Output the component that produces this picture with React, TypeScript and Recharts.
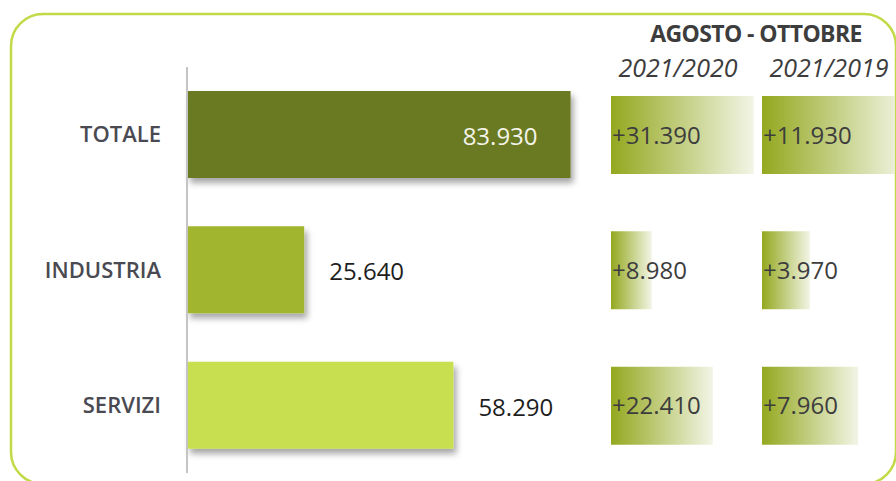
import React from 'react';
import { BarChart, Bar, XAxis, YAxis, Cell, LabelList } from 'recharts';

// Assunzioni previste agosto-ottobre 2021 per settore
const categories = ['TOTALE', 'INDUSTRIA', 'SERVIZI'];
const hires2021 = [83930, 25640, 58290];
const diffVs2020 = [31390, 8980, 22410];
const diffVs2019 = [11930, 3970, 7960];
const barColors = ['#6b7a23', '#a2b52e', '#c8df50'];
const periodTitle = 'AGOSTO - OTTOBRE';
const compareLabels = ['2021/2020', '2021/2019'];

const data = categories.map((name, i) => ({
  name,
  value: hires2021[i],
  d2020: diffVs2020[i],
  d2019: diffVs2019[i],
}));

const FONT = '"Open Sans", sans-serif';
const TEXT = '#3d3d3d';

// italian thousands separator
const fmt = (v: number) => String(v).replace(/\B(?=(\d{3})+(?!\d))/g, '.');

const MainLabel = (props: any) => {
  const { x, y, width, height, value, index } = props;
  const inside = index === 0; // only the big bar has room for its label
  return (
    <text
      x={inside ? x + width - 33 : x + width + 25}
      y={y + height / 2 + 1}
      textAnchor={inside ? 'end' : 'start'}
      dominantBaseline="central"
      fontFamily={FONT}
      fontSize={24}
      fill={inside ? '#f4f4ea' : '#1e1e1e'}
    >
      {fmt(value)}
    </text>
  );
};

const Shadow = () => (
  <filter id="barShadow" x="-10%" y="-20%" width="130%" height="160%">
    <feDropShadow dx="3" dy="5" stdDeviation="3" floodColor="#000" floodOpacity="0.35" />
  </filter>
);

const Grad = ({ id }: { id: string }) => (
  <linearGradient id={id} x1="0" y1="0" x2="1" y2="0">
    <stop offset="0%" stopColor="#94a81f" />
    <stop offset="100%" stopColor="#f2f5e6" />
  </linearGradient>
);

const chartStyle: React.CSSProperties = { position: 'absolute', left: 0, top: 0 };

const App = () => {
  return (
    <div style={{ position: 'absolute', left: 0, top: 0, width: 896, height: 481, background: '#fff', overflow: 'hidden' }}>
      {/* rounded frame */}
      <svg width={896} height={481} style={{ position: 'absolute', left: 0, top: 0 }}>
        <rect x={11} y={14} width={885} height={470} rx={32} ry={32} fill="none" stroke="#c3da48" strokeWidth={2.5} />
      </svg>

      {/* main bars */}
      <div style={chartStyle}>
        <BarChart
          width={896}
          height={481}
          data={data}
          layout="vertical"
          margin={{ top: 67, right: 252, bottom: 8, left: 0 }}
        >
          <defs>
            <Shadow />
          </defs>
          <XAxis type="number" domain={[0, 100000]} hide />
          <YAxis
            type="category"
            dataKey="name"
            width={187}
            axisLine={{ stroke: '#c4c4c4', strokeWidth: 2 }}
            tickLine={false}
            tickSize={0}
            tickMargin={26}
            tick={{ fontFamily: FONT, fontSize: 22, fontWeight: 600, fill: '#4a4a52' }}
          />
          <Bar dataKey="value" barSize={87} filter="url(#barShadow)" isAnimationActive={false}>
            {data.map((d, i) => (
              <Cell key={d.name} fill={barColors[i]} />
            ))}
            <LabelList dataKey="value" content={MainLabel} />
          </Bar>
        </BarChart>
      </div>

      {/* differences vs 2020 */}
      <div style={chartStyle}>
        <BarChart
          width={896}
          height={481}
          data={data}
          layout="vertical"
          margin={{ top: 67, right: 135, bottom: 8, left: 611 }}
        >
          <defs>
            <Grad id="g2020" />
          </defs>
          <XAxis type="number" domain={[0, 33000]} hide />
          <YAxis type="category" dataKey="name" hide />
          <Bar dataKey="d2020" barSize={78} fill="url(#g2020)" isAnimationActive={false}>
            <LabelList
              dataKey="d2020"
              position="insideLeft"
              offset={1}
              formatter={(v: any) => '+' + fmt(v)}
              style={{ fontFamily: FONT, fontSize: 24, fill: TEXT }}
            />
          </Bar>
        </BarChart>
      </div>

      {/* differences vs 2019 */}
      <div style={chartStyle}>
        <BarChart
          width={896}
          height={481}
          data={data}
          layout="vertical"
          margin={{ top: 67, right: 1, bottom: 8, left: 762 }}
        >
          <defs>
            <Grad id="g2019" />
          </defs>
          <XAxis type="number" domain={[0, 11000]} allowDataOverflow hide />
          <YAxis type="category" dataKey="name" hide />
          <Bar dataKey="d2019" barSize={78} fill="url(#g2019)" isAnimationActive={false}>
            <LabelList
              dataKey="d2019"
              position="insideLeft"
              offset={1}
              formatter={(v: any) => '+' + fmt(v)}
              style={{ fontFamily: FONT, fontSize: 24, fill: TEXT }}
            />
          </Bar>
        </BarChart>
      </div>

      {/* column headers */}
      <div
        style={{
          position: 'absolute', left: 620, top: 17, width: 272, textAlign: 'center',
          fontFamily: FONT, fontWeight: 700, fontSize: 23, color: TEXT, letterSpacing: -0.6,
        }}
      >
        {periodTitle}
      </div>
      {compareLabels.map((t, i) => (
        <div
          key={t}
          style={{
            position: 'absolute', left: i === 0 ? 608 : 759, top: 50, width: 140, textAlign: 'center',
            fontFamily: FONT, fontStyle: 'italic', fontSize: 25, color: TEXT,
          }}
        >
          {t}
        </div>
      ))}
    </div>
  );
};

export default App;
